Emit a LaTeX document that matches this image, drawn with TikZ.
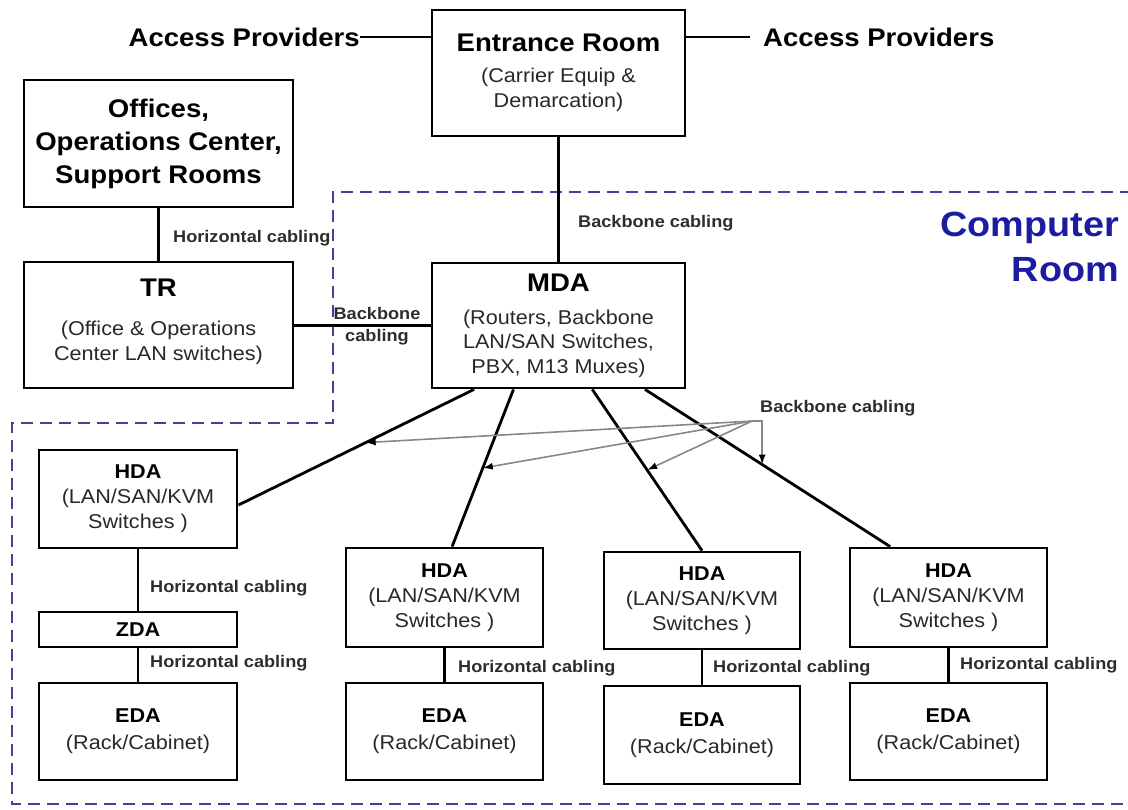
\documentclass[tikz,border=0pt]{standalone}
\usepackage{fontspec}
\setmainfont{Liberation Sans}[FakeStretch=1.08]
\usetikzlibrary{arrows.meta,calc}

\definecolor{roomblue}{RGB}{28,28,160}
\definecolor{dashblue}{RGB}{65,65,160}
\definecolor{subgray}{RGB}{40,40,40}
\definecolor{labelgray}{RGB}{45,45,45}
\definecolor{pointergray}{RGB}{135,135,135}

\newcommand{\boxtitle}[1]{{\color{black}\bfseries\fontsize{25.5}{25}\selectfont #1}}
\newcommand{\areatitle}[1]{{\color{black}\bfseries #1}}

\tikzset{
  box/.style={draw, line width=2.8pt, inner sep=0pt, align=center, text=subgray},
  roombox/.style={box, minimum width=253pt, minimum height=126pt,
    font=\fontsize{20}{24.5}\selectfont},
  sidebox/.style={box, minimum width=269pt, minimum height=126pt,
    font=\fontsize{20}{25}\selectfont},
  areabox/.style={box, minimum width=197pt, minimum height=98pt,
    font=\fontsize{20}{25}\selectfont},
  link/.style={line width=2.2pt},
  trunk/.style={line width=2.8pt},
  cablabel/.style={font=\fontsize{16.8}{22}\selectfont\bfseries, text=labelgray, inner sep=0pt},
  provider/.style={font=\fontsize{25.5}{30}\selectfont\bfseries, inner sep=0pt},
  pointer/.style={draw=pointergray, line width=1.6pt,
    -{Latex[length=10pt,width=7pt,color=black]}},
  zone/.style={draw=dashblue, line width=2.8pt, dash pattern=on 12pt off 7pt},
}

\begin{document}
\begin{tikzpicture}[x=1pt,y=-1pt]
\useasboundingbox (0,0) rectangle (1128,810);

% computer room boundary
\draw[zone] (1132,192) -- (333,192) -- (333,423) -- (12,423) -- (12,804) -- (1132,804);
\node[font=\fontsize{35}{45}\selectfont\bfseries, text=roomblue, align=right,
  anchor=east, inner sep=0pt] (croom) at (1119,247) {Computer\\Room};

% rooms outside the computer room
\node[roombox] (ent) at (558.5,73)
  {\boxtitle{Entrance Room}\\[6.5pt](Carrier Equip \&\\Demarcation)};
\node[sidebox, text=black, font=\fontsize{25.5}{33}\selectfont\bfseries, minimum height=127pt]
  (off) at (158.5,143.5) {Offices,\\Operations Center,\\Support Rooms};
\node[sidebox] (tr) at (158.5,325) {};
\node[align=center, inner sep=0pt, text=subgray, font=\fontsize{20}{25}\selectfont]
  (trtext) at (tr.center) [yshift=3pt]
  {\boxtitle{TR}\\[14pt](Office \& Operations\\Center LAN switches)};
\node[roombox, minimum height=125pt] (mda) at (558.5,325.5)
  {\boxtitle{MDA}\\[8.5pt](Routers, Backbone\\LAN/SAN Switches,\\PBX, M13 Muxes)};

\node[provider, anchor=east] (apl) at (360,37) {Access Providers};
\node[provider, anchor=west, inner xsep=13pt] (apr) at (750,37) {Access Providers};

% distribution areas
\node[areabox, minimum width=198pt] (hda1) at (138,499)
  {\areatitle{HDA}\\(LAN/SAN/KVM\\Switches )};
\node[areabox, minimum width=198pt, minimum height=35pt] (zda) at (138,629.5)
  {\areatitle{ZDA}};
\node[areabox, minimum width=198pt, minimum height=97pt] (eda1) at (138,731.5)
  {\areatitle{EDA}\\[2pt](Rack/Cabinet)};

\node[areabox, minimum height=99pt] (hda2) at (444.5,597.5)
  {\areatitle{HDA}\\(LAN/SAN/KVM\\Switches )};
\node[areabox, minimum height=97pt] (eda2) at (444.5,731.5)
  {\areatitle{EDA}\\[2pt](Rack/Cabinet)};

\node[areabox, minimum width=196pt, minimum height=97pt] (hda3) at (702,600.5)
  {\areatitle{HDA}\\(LAN/SAN/KVM\\Switches )};
\node[areabox, minimum width=196pt, minimum height=98pt] (eda3) at (702,735)
  {\areatitle{EDA}\\[2pt](Rack/Cabinet)};

\node[areabox, minimum height=99pt] (hda4) at (948.5,597.5)
  {\areatitle{HDA}\\(LAN/SAN/KVM\\Switches )};
\node[areabox, minimum height=97pt] (eda4) at (948.5,731.5)
  {\areatitle{EDA}\\[2pt](Rack/Cabinet)};

% cabling labels
\node[cablabel, anchor=west] (loff) at (173,238) {Horizontal cabling};
\node[cablabel, anchor=west] (lent) at (578,223) {Backbone cabling};
\node[cablabel, align=center] (ltr) at (377,326) {Backbone\\cabling};
\node[cablabel, anchor=west] (lbb) at (760,408) {Backbone cabling};
\node[cablabel, anchor=west] (lh1) at (150,588) {Horizontal cabling};
\node[cablabel, anchor=west] (lz1) at (150,663) {Horizontal cabling};
\node[cablabel, anchor=west] (lh2) at (458,668) {Horizontal cabling};
\node[cablabel, anchor=west] (lh3) at (713,668) {Horizontal cabling};
\node[cablabel, anchor=west] (lh4) at (960,665) {Horizontal cabling};

% connectors
\draw[link] (apl.east) -- (apl.east -| ent.west);
\draw[link] (ent.east |- apr.west) -- (apr.west);
\draw[link] (ent.south) -- (mda.north);
\draw[link] (off.south) -- (tr.north);
\draw[link] (tr.east |- mda.west) -- (mda.west);
\draw[link] (hda1.south) -- (zda.north);
\draw[link] (zda.south) -- (eda1.north);
\draw[link] (hda2.south) -- (eda2.north);
\draw[link] (hda3.south) -- (eda3.north);
\draw[link] (hda4.south) -- (eda4.north);

% backbone trunks from the MDA
\draw[trunk] ($(mda.south west)!0.17!(mda.south east)$)
  -- coordinate[pos=0.46] (t1) ($(hda1.north east)!0.56!(hda1.south east)$);
\draw[trunk] ($(mda.south west)!0.324!(mda.south east)$)
  -- coordinate[pos=0.5] (t2) ($(hda2.north west)!0.538!(hda2.north east)$);
\draw[trunk] ($(mda.south west)!0.632!(mda.south east)$)
  -- coordinate[pos=0.5] (t3) (hda3.north);
\draw[trunk] ($(mda.south west)!0.838!(mda.south east)$)
  -- coordinate[pos=0.478] (t4) ($(hda4.north west)!0.208!(hda4.north east)$);

% pointers from the backbone label
\coordinate (fan) at ($(lbb.south west)+(-8,5)$);
\draw[pointer] (fan) -- (t1);
\draw[pointer] (fan) -- (t2);
\draw[pointer] (fan) -- (t3);
\draw[pointer] (fan) -- (fan -| t4) -- (t4);

\end{tikzpicture}
\end{document}
